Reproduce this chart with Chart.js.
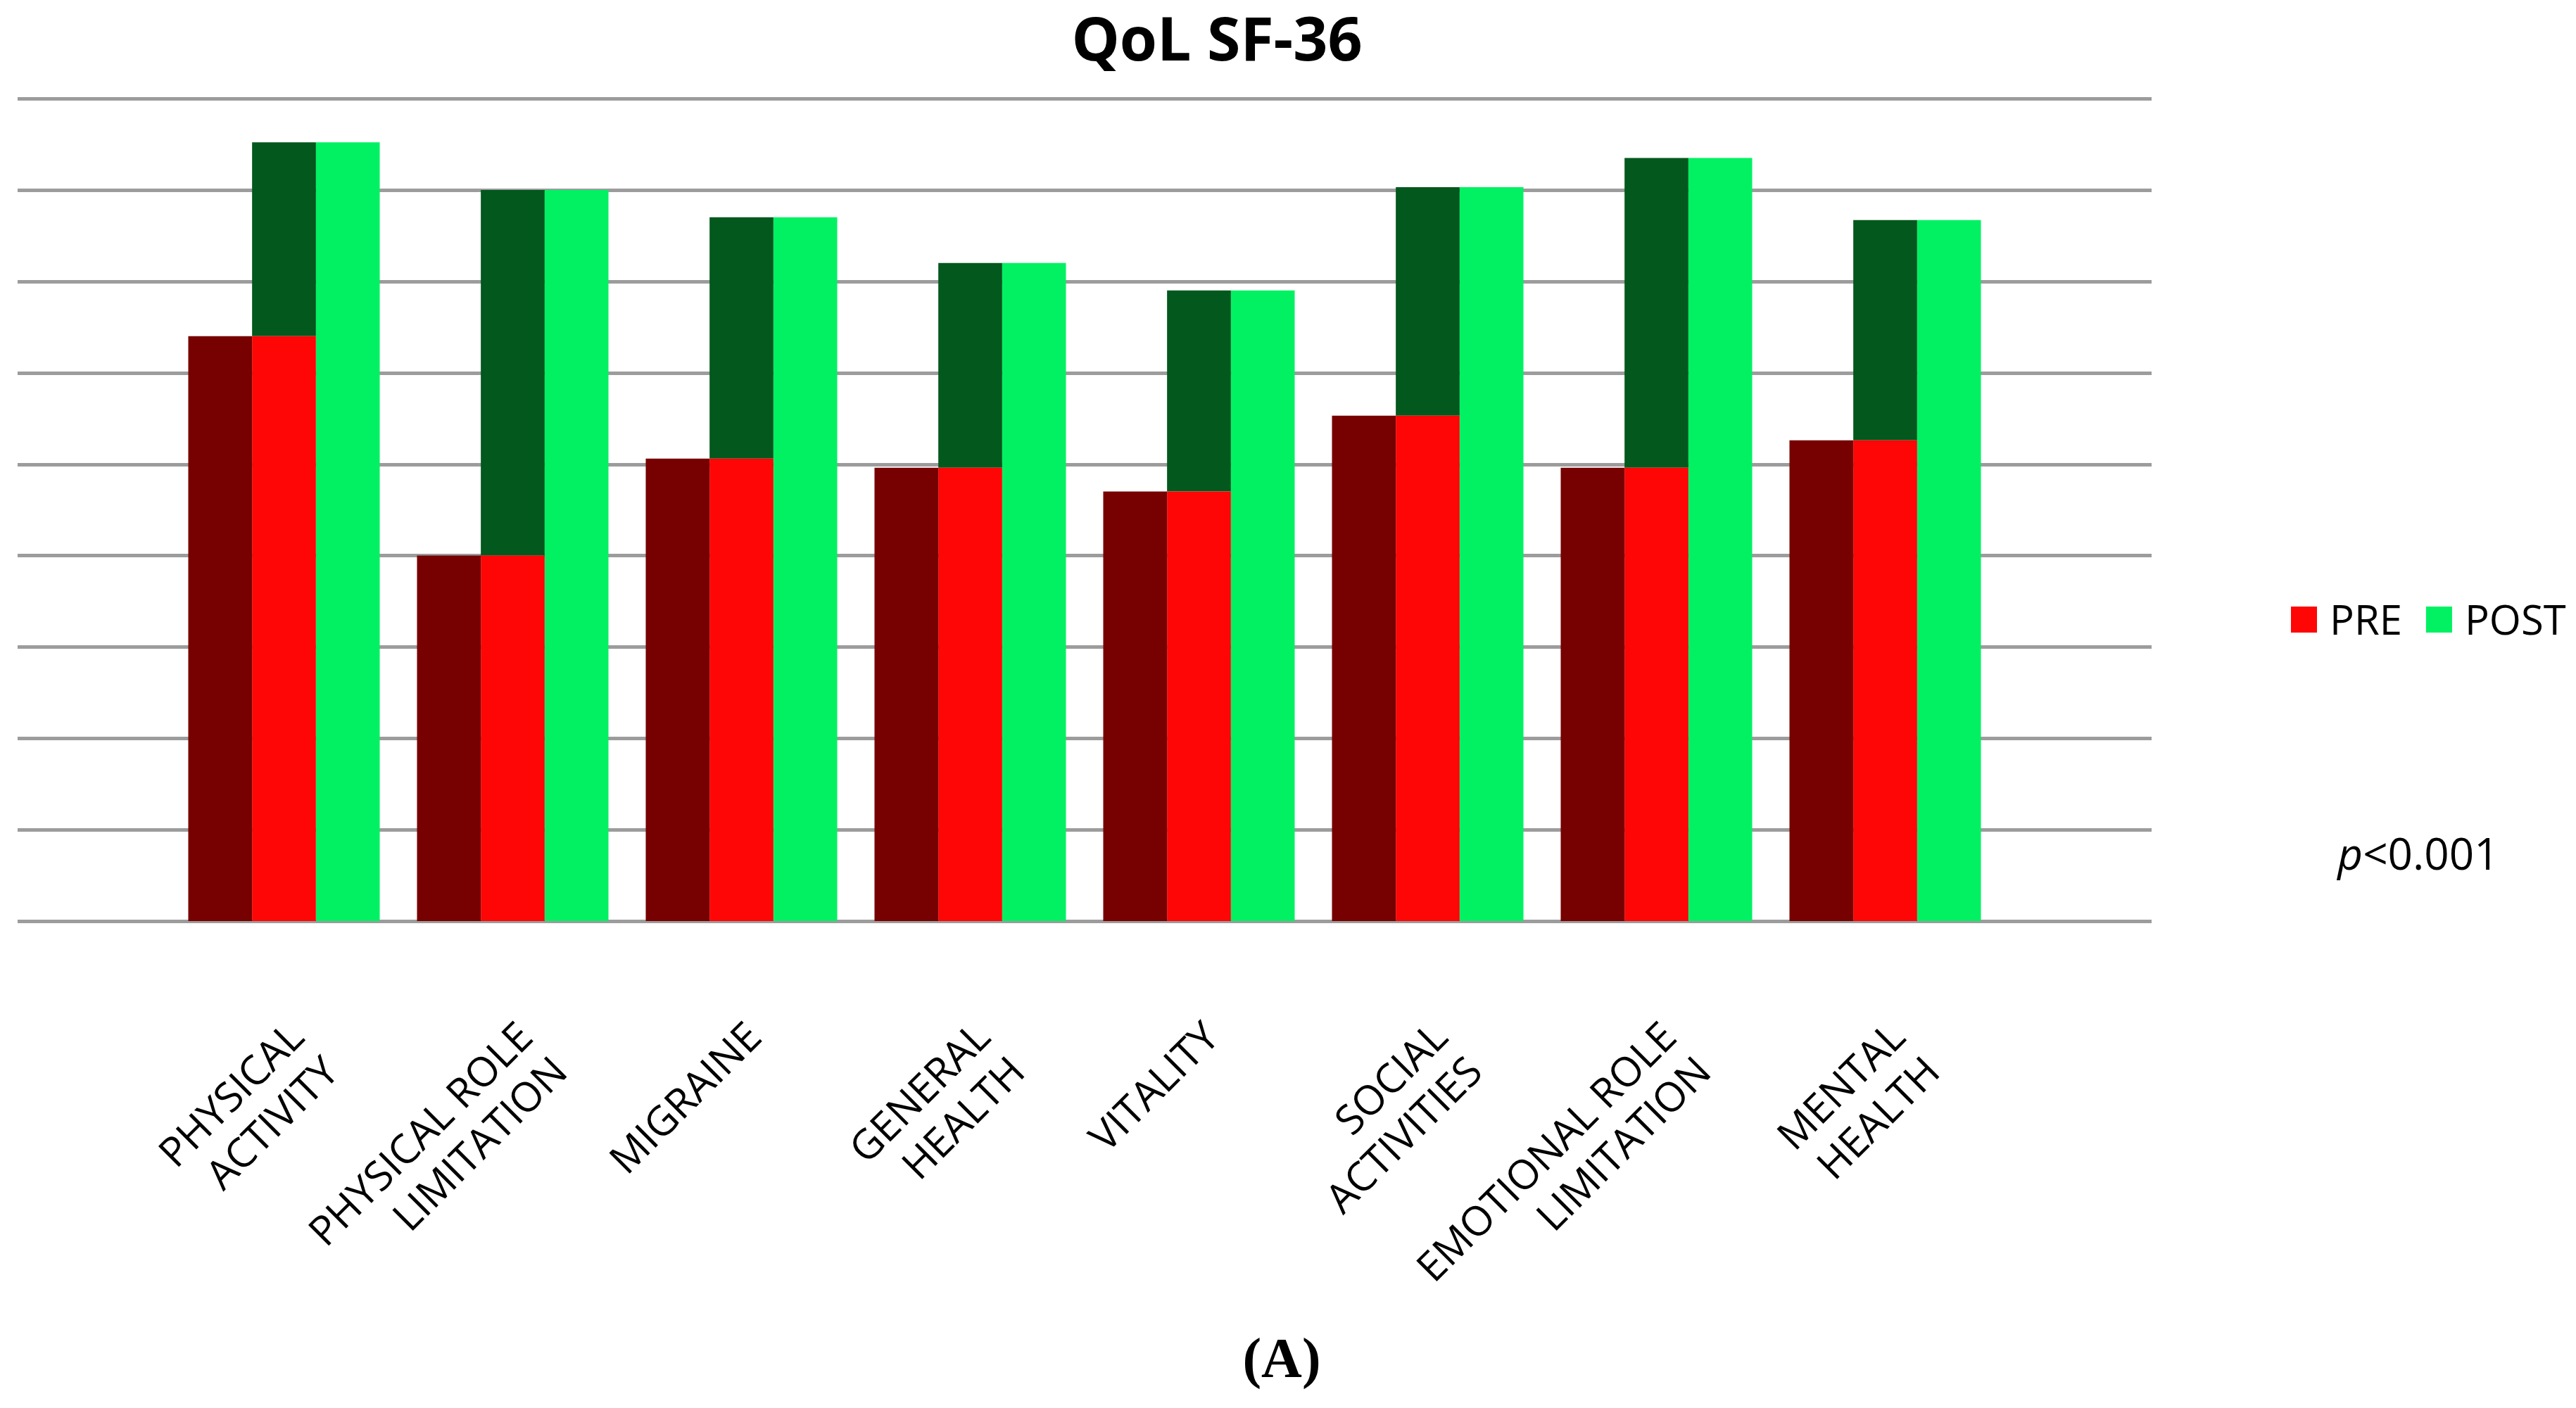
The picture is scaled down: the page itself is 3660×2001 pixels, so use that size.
<!DOCTYPE html>
<html>
<head>
<meta charset="utf-8">
<script src="https://cdn.jsdelivr.net/npm/chart.js@4/dist/chart.umd.min.js"></script>
<style>
  html, body { margin: 0; padding: 0; background: #fff; }
  #wrap { width: 3660px; height: 2001px; }
</style>
</head>
<body>
<div id="wrap"><canvas id="qolChart" width="3660" height="2001"></canvas></div>
<script>
const categories = [
  ["PHYSICAL", "ACTIVITY"],
  ["PHYSICAL ROLE", "LIMITATION"],
  ["MIGRAINE"],
  ["GENERAL", "HEALTH"],
  ["VITALITY"],
  ["SOCIAL", "ACTIVITIES"],
  ["EMOTIONAL ROLE", "LIMITATION"],
  ["MENTAL", "HEALTH"],
];
const preValues = [64, 40, 50.6, 49.6, 47, 55.3, 49.6, 52.6];
const postValues = [85.2, 80, 77, 72, 69, 80.3, 83.5, 76.7];
const yMin = 0;
const yMax = 90;
const yStep = 10;
const titleText = "QoL SF-36";
const pText = ["p", "<0.001"];
const panelText = "(A)";

const fontFamily = "'Open Sans', sans-serif";
const gridColor = "#9c9c9c";
const gridOverhang = 216;

// dark side of the POST bar shows above the PRE front face
const postSide = postValues.map((v, i) => v - preValues[i]);

const extrasPlugin = {
  id: "extras",
  beforeDatasetsDraw(chart) {
    const { ctx, chartArea, scales } = chart;
    const y = scales.y;
    ctx.save();
    ctx.strokeStyle = gridColor;
    ctx.lineWidth = 5;
    y.ticks.forEach((t) => {
      const py = Math.round(y.getPixelForValue(t.value)) + 0.5;
      ctx.beginPath();
      ctx.moveTo(chartArea.left - gridOverhang, py);
      ctx.lineTo(chartArea.right + gridOverhang, py);
      ctx.stroke();
    });
    ctx.restore();
  },
  afterDraw(chart) {
    const { ctx } = chart;
    ctx.save();
    ctx.fillStyle = "#000";
    ctx.textBaseline = "alphabetic";

    ctx.font = `bold 86px ${fontFamily}`;
    ctx.textAlign = "center";
    ctx.fillText(titleText, 1729, 86);

    // legend: only the front faces
    const items = [chart.data.datasets[1], chart.data.datasets[3]];
    ctx.font = `58px ${fontFamily}`;
    ctx.textAlign = "left";
    let x = 3255;
    items.forEach((ds) => {
      ctx.fillStyle = ds.backgroundColor;
      ctx.fillRect(x, 862, 37, 37);
      x += 37 + 18;
      ctx.fillStyle = "#000";
      ctx.fillText(ds.label, x, 902);
      x += ctx.measureText(ds.label).width + 34;
    });

    ctx.font = `italic 62px ${fontFamily}`;
    const wP = ctx.measureText(pText[0]).width;
    ctx.font = `62px ${fontFamily}`;
    const wRest = ctx.measureText(pText[1]).width;
    const px = 3436 - (wP + wRest) / 2;
    ctx.font = `italic 62px ${fontFamily}`;
    ctx.fillText(pText[0], px, 1236);
    ctx.font = `62px ${fontFamily}`;
    ctx.fillText(pText[1], px + wP, 1236);

    ctx.font = "bold 80px 'Liberation Serif', serif";
    ctx.textAlign = "center";
    ctx.fillText(panelText, 1821, 1957);
    ctx.restore();
  },
};

new Chart(document.getElementById("qolChart"), {
  type: "bar",
  data: {
    labels: categories,
    datasets: [
      { label: "PRE side", data: preValues, backgroundColor: "#770000", stack: "a" },
      { label: "PRE", data: preValues, backgroundColor: "#fe0606", stack: "b" },
      { label: "POST side", data: postSide, backgroundColor: "#02581d", stack: "b" },
      { label: "POST", data: postValues, backgroundColor: "#01f163", stack: "c" },
    ],
  },
  options: {
    responsive: false,
    devicePixelRatio: 1,
    animation: false,
    layout: { padding: { left: 241, right: 819, top: 140, bottom: 0 } },
    datasets: {
      bar: { categoryPercentage: 0.837, barPercentage: 1.0, borderWidth: 0 },
    },
    plugins: {
      legend: { display: false },
      title: { display: false },
      tooltip: { enabled: false },
    },
    scales: {
      x: {
        stacked: true,
        grid: { display: false, drawTicks: false },
        border: { display: false },
        ticks: {
          autoSkip: false,
          minRotation: 45,
          maxRotation: 45,
          padding: 132,
          labelOffset: 20,
          color: "#000",
          font: { family: fontFamily, size: 58 },
        },
        afterFit(scale) {
          scale.height = 692;
          scale.paddingLeft = 0;
          scale.paddingRight = 0;
        },
      },
      y: {
        stacked: true,
        min: yMin,
        max: yMax,
        grid: { display: false },
        border: { display: false },
        ticks: { display: false, stepSize: yStep },
        afterFit(scale) {
          scale.width = 0;
        },
      },
    },
  },
  plugins: [extrasPlugin],
});
</script>
</body>
</html>
